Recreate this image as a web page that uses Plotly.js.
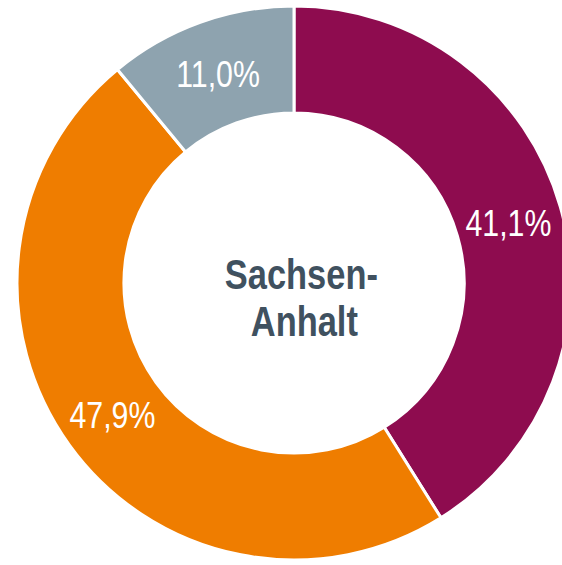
<!DOCTYPE html>
<html>
<head>
<meta charset="utf-8">
<script src="https://cdn.plot.ly/plotly-3.0.1.min.js"></script>
<style>
html,body{margin:0;padding:0;overflow:hidden;background:#fff;}
#chart{width:588px;height:566px;}
#chart .annotation-text{transform-box:fill-box;transform-origin:center;transform:scaleX(0.82);}
</style>
</head>
<body>
<div id="chart"></div>
<script>
var categories = ["Kategorie A", "Kategorie B", "Kategorie C"];
var values = [41.1, 47.9, 11.0];
var labelsText = ["41,1%", "47,9%", "11,0%"];
var colors = ["#8E0C4F", "#EF7D00", "#8EA3AF"];
var centerLines = ["Sachsen-", "Anhalt"];

var fontFam = "'Liberation Sans', Arial, sans-serif";
var W = 588, H = 566;
var cx = 294, cy = 283, R = 277, hole = 0.614;

var data = [{
  type: "pie",
  labels: categories,
  values: values,
  textinfo: "none",
  hole: hole,
  sort: false,
  direction: "clockwise",
  rotation: 0,
  marker: {colors: colors, line: {color: "#ffffff", width: 3}},
  domain: {x: [0, 1], y: [(cy - R) / H, (cy + R) / H]},
  showlegend: false,
  hoverinfo: "none"
}];

var total = values.reduce(function (a, b) { return a + b; }, 0);
var rMid = R * (1 + hole) / 2;
var annotations = [];
var cum = 0;
values.forEach(function (v, i) {
  var ang = (cum + v / 2) / total * 2 * Math.PI;
  cum += v;
  var px = cx + rMid * Math.sin(ang);
  var py = cy - rMid * Math.cos(ang);
  annotations.push({
    text: labelsText[i], x: px / W, y: 1 - (py + 2) / H, xref: "paper", yref: "paper",
    showarrow: false, xanchor: "center", yanchor: "middle",
    font: {family: fontFam, size: 37, color: "#ffffff"}
  });
});
annotations.push({text: "<b>" + centerLines[0] + "</b>", x: 301.5 / W, y: 1 - 274 / H, xref: "paper", yref: "paper",
  showarrow: false, xanchor: "center", yanchor: "middle",
  font: {family: fontFam, size: 42, color: "#40515F"}});
annotations.push({text: "<b>" + centerLines[1] + "</b>", x: 304 / W, y: 1 - 321 / H, xref: "paper", yref: "paper",
  showarrow: false, xanchor: "center", yanchor: "middle",
  font: {family: fontFam, size: 42, color: "#40515F"}});

var layout = {
  width: W,
  height: H,
  margin: {l: 0, r: 0, t: 0, b: 0},
  paper_bgcolor: "#ffffff",
  showlegend: false,
  annotations: annotations
};

Plotly.newPlot("chart", data, layout, {displayModeBar: false, staticPlot: true});
</script>
</body>
</html>
